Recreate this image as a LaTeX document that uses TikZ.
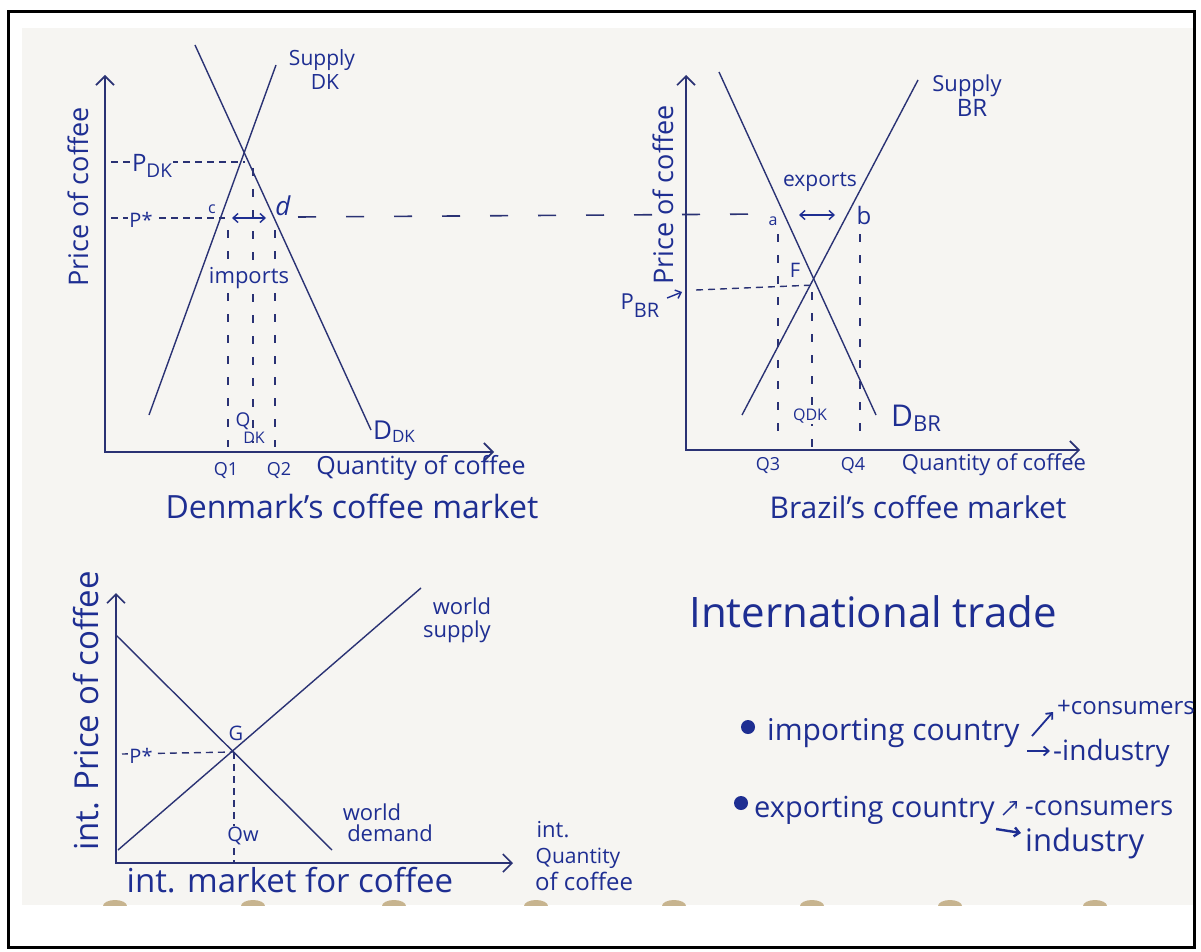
\documentclass[tikz,border=0pt]{standalone}
\usepackage{fontspec}
\setmainfont{Open Sans}
\usetikzlibrary{arrows.meta}
\definecolor{ink}{HTML}{1E2E92}
\definecolor{inkline}{HTML}{2A3274}
\definecolor{paper}{HTML}{F6F5F2}
\definecolor{hole}{HTML}{C7B48F}
\newcommand\fs[1]{\fontsize{#1}{#1}\selectfont}
\begin{document}
\begin{tikzpicture}[x=1pt,y=-1pt,
  axis/.style={draw=inkline,line width=1.8pt,{Straight Barb[length=9pt,width=18pt,line width=1.6pt]}-{Straight Barb[length=9pt,width=18pt,line width=1.6pt]}},
  curve/.style={draw=inkline,line width=1.4pt},
  sdash/.style={draw=inkline,line width=1.4pt,dash pattern=on 7pt off 5pt},
  ldash/.style={draw=inkline,line width=1.6pt,dash pattern=on 18pt off 30pt},
  vdash/.style={draw=inkline,line width=1.3pt,dash pattern=on 8pt off 13pt},
  dbl/.style={draw=ink,line width=1.4pt,{Straight Barb[length=5pt,width=9pt]}-{Straight Barb[length=5pt,width=9pt]}},
  txtarrow/.style={draw=ink,line width=1.8pt,-{Straight Barb[length=5pt,width=9pt]}},
  lbl/.style={text=ink,inner sep=1pt},
  plbl/.style={text=ink,inner sep=1pt,fill=paper},
  bullet/.style={circle,fill=ink,inner sep=0pt,minimum size=14pt}]
\useasboundingbox (0,0) rectangle (1201,952);
\fill[white] (0,0) rectangle (1201,952);
\fill[paper] (22,28) rectangle (1194,905);
\foreach \hx in {115,253,394,536,674,812,950,1095}
  \fill[hole] (\hx,906) ellipse [x radius=12pt, y radius=6pt];
\fill[white] (22,906) rectangle (1194,944);
\draw[line width=3pt] (8,12) rectangle (1194,947);

% ---------------- Denmark ----------------
\coordinate (Y1) at (105,75);
\coordinate (O1) at (105,452);
\coordinate (X1) at (494,452);
\draw[axis] (Y1) -- (O1) -- (X1);
\coordinate (dk1) at (195,45);
\coordinate (dk2) at (371,430);
\coordinate (sk1) at (149,415);
\coordinate (sk2) at (276,65);
\draw[curve] (dk1) -- (dk2);
\draw[curve] (sk1) -- (sk2);
\coordinate (E1) at (245,160);
\coordinate (pdkL) at (111,162);
\coordinate (pstL) at (111,218);
\coordinate (cpt) at (225,218);
\coordinate (dpt) at (298,217);
\coordinate (apt) at (768,214);
\draw[sdash] (pdkL) -- (E1 |- pdkL);
\draw[sdash] (pstL) -- (cpt);
\draw[ldash] (dpt) -- (apt);
\coordinate (q1t) at (228,230);
\coordinate (q1b) at (228,447);
\coordinate (qdt) at (253,168);
\coordinate (qdb) at (253,443);
\coordinate (q2t) at (275,230);
\coordinate (q2b) at (275,447);
\draw[vdash] (q1t) -- (q1b);
\draw[vdash] (qdt) -- (qdb);
\draw[vdash] (q2t) -- (q2b);
\coordinate (imL) at (232,218);
\coordinate (imR) at (266,218);
\draw[dbl] (imL) -- (imR);
\node[plbl,font=\fs{24}] (pdk) at (152,166) {P\raisebox{-6pt}{\fs{19}DK}};
\node[plbl,font=\fs{20}] (pst1) at (141,220) {P*};
\node[lbl,font=\fs{16}] (lc) at (212,209) {c};
\node[lbl,font=\fs{26}\itshape] (ld) at (283,206) {d};
\node[plbl,font=\fs{22}] (imp) at (249,278) {imports};
\node[plbl,font=\fs{19}] (qdka) at (243,421) {Q};
\node[lbl,font=\fs{16}] (qdkb) at (254,438) {DK};
\node[lbl,font=\fs{26}] (ddk) at (394,432) {D\raisebox{-3pt}{\fs{17}DK}};
\node[lbl,font=\fs{21}] (supdk) at (322,60) {Supply};
\node[lbl,font=\fs{21}] (supdk2) at (325,82) {DK};
\node[lbl,font=\fs{27},rotate=90] (price1) at (78,197) {Price of coffee};
\node[lbl,font=\fs{18}] (lq1) at (226,470) {Q1};
\node[lbl,font=\fs{18}] (lq2) at (279,470) {Q2};
\node[lbl,font=\fs{25}] (quant1) at (421,468) {Quantity of coffee};
\node[lbl,font=\fs{32}] (title1) at (352,506) {Denmark's coffee market};

% ---------------- Brazil ----------------
\coordinate (Y2) at (686,75);
\coordinate (O2) at (686,450);
\coordinate (X2) at (1080,450);
\draw[axis] (Y2) -- (O2) -- (X2);
\coordinate (db1) at (719,72);
\coordinate (db2) at (876,415);
\coordinate (sb1) at (742,415);
\coordinate (sb2) at (918,80);
\draw[curve] (db1) -- (db2);
\draw[curve] (sb1) -- (sb2);
\coordinate (F) at (815,285);
\coordinate (pbrL) at (696,290);
\draw[sdash] (pbrL) -- (F);
\coordinate (q3t) at (778,234);
\coordinate (q3b) at (778,440);
\coordinate (qbt) at (812,292);
\coordinate (qbb) at (812,447);
\coordinate (q4t) at (860,234);
\coordinate (q4b) at (860,440);
\draw[vdash] (q3t) -- (q3b);
\draw[vdash] (qbt) -- (qbb);
\draw[vdash] (q4t) -- (q4b);
\coordinate (exL) at (799,215);
\coordinate (exR) at (835,215);
\draw[dbl] (exL) -- (exR);
\node[lbl,font=\fs{21}] (exports) at (820,182) {exports};
\node[lbl,font=\fs{16}] (la) at (773,221) {a};
\node[lbl,font=\fs{24}] (lb) at (864,215) {b};
\node[lbl,font=\fs{20}] (lF) at (795,270) {F};
\node[lbl,font=\fs{22}] (pbr) at (640,306) {P\raisebox{-8pt}{\fs{20}BR}};
\coordinate (pbrA) at (667,298);
\coordinate (pbrB) at (682,292);
\draw[txtarrow,line width=1.4pt] (pbrA) -- (pbrB);
\node[plbl,font=\fs{16}] (qdk2) at (810,416) {QDK};
\node[lbl,font=\fs{30}] (dbr) at (916,418) {D\raisebox{-5pt}{\fs{22}BR}};
\node[lbl,font=\fs{22}] (supbr) at (967,86) {Supply};
\node[lbl,font=\fs{24}] (supbr2) at (972,108) {BR};
\node[lbl,font=\fs{27},rotate=90] (price2) at (663,195) {Price of coffee};
\node[lbl,font=\fs{18}] (lq3) at (768,465) {Q3};
\node[lbl,font=\fs{18}] (lq4) at (853,465) {Q4};
\node[lbl,font=\fs{22}] (quant2) at (994,465) {Quantity of coffee};
\node[lbl,font=\fs{30}] (title2) at (918,507) {Brazil's coffee market};

% ---------------- International ----------------
\coordinate (Y3) at (116,593);
\coordinate (O3) at (116,863);
\coordinate (X3) at (513,863);
\draw[axis] (Y3) -- (O3) -- (X3);
\coordinate (dw1) at (116,635);
\coordinate (dw2) at (332,850);
\coordinate (sw1) at (118,850);
\coordinate (sw2) at (421,588);
\draw[curve] (dw1) -- (dw2);
\draw[curve] (sw1) -- (sw2);
\coordinate (G) at (234,752);
\coordinate (pwL) at (122,754);
\coordinate (qwB) at (234,863);
\draw[sdash] (pwL) -- (G);
\draw[sdash] (G) -- (qwB);
\node[lbl,font=\fs{20}] (lG) at (236,733) {G};
\node[plbl,font=\fs{20}] (pst2) at (141,756) {P*};
\node[plbl,font=\fs{20}] (lqw) at (243,836) {Qw};
\node[lbl,font=\fs{22}] (ws1) at (462,606) {world};
\node[lbl,font=\fs{22}] (ws2) at (457,632) {supply};
\node[lbl,font=\fs{22}] (wd1) at (372,812) {world};
\node[lbl,font=\fs{22}] (wd2) at (390,833) {demand};
\node[lbl,font=\fs{22}] (iq1) at (553,830) {int.};
\node[lbl,font=\fs{21}] (iq2) at (578,858) {Quantity};
\node[lbl,font=\fs{24}] (iq3) at (584,881) {of coffee};
\node[lbl,font=\fs{33},rotate=90] (price3) at (86,711) {int. Price of coffee};
\node[lbl,font=\fs{33}] (title3) at (290,880) {int. market for coffee};

% ---------------- Text ----------------
\node[lbl,font=\fs{42}] (title4) at (873,612) {International trade};
\node[bullet] (b1) at (748,727) {};
\node[bullet] (b2) at (741,803) {};
\node[lbl,font=\fs{30},anchor=west] (impc) at (766,733) {importing country};
\node[lbl,font=\fs{24},anchor=west] (pcons) at (1056,707) {+consumers};
\node[lbl,font=\fs{28},anchor=west] (mind) at (1052,753) {-industry};
\node[lbl,font=\fs{29},anchor=west] (expc) at (753,810) {exporting country};
\node[lbl,font=\fs{27},anchor=west] (mcons) at (1024,808) {-consumers};
\node[lbl,font=\fs{31},anchor=west] (ind) at (1024,843) {industry};
\coordinate (a1s) at (1032,736);
\coordinate (a1e) at (1053,712);
\coordinate (a2s) at (1027,751);
\coordinate (a2e) at (1050,751);
\coordinate (a3s) at (1003,815);
\coordinate (a3e) at (1017,801);
\coordinate (a4s) at (996,829);
\coordinate (a4e) at (1021,833);
\draw[txtarrow] (a1s) -- (a1e);
\draw[txtarrow] (a2s) -- (a2e);
\draw[txtarrow,line width=1.4pt] (a3s) -- (a3e);
\draw[txtarrow,line width=2.4pt] (a4s) -- (a4e);
\end{tikzpicture}
\end{document}
